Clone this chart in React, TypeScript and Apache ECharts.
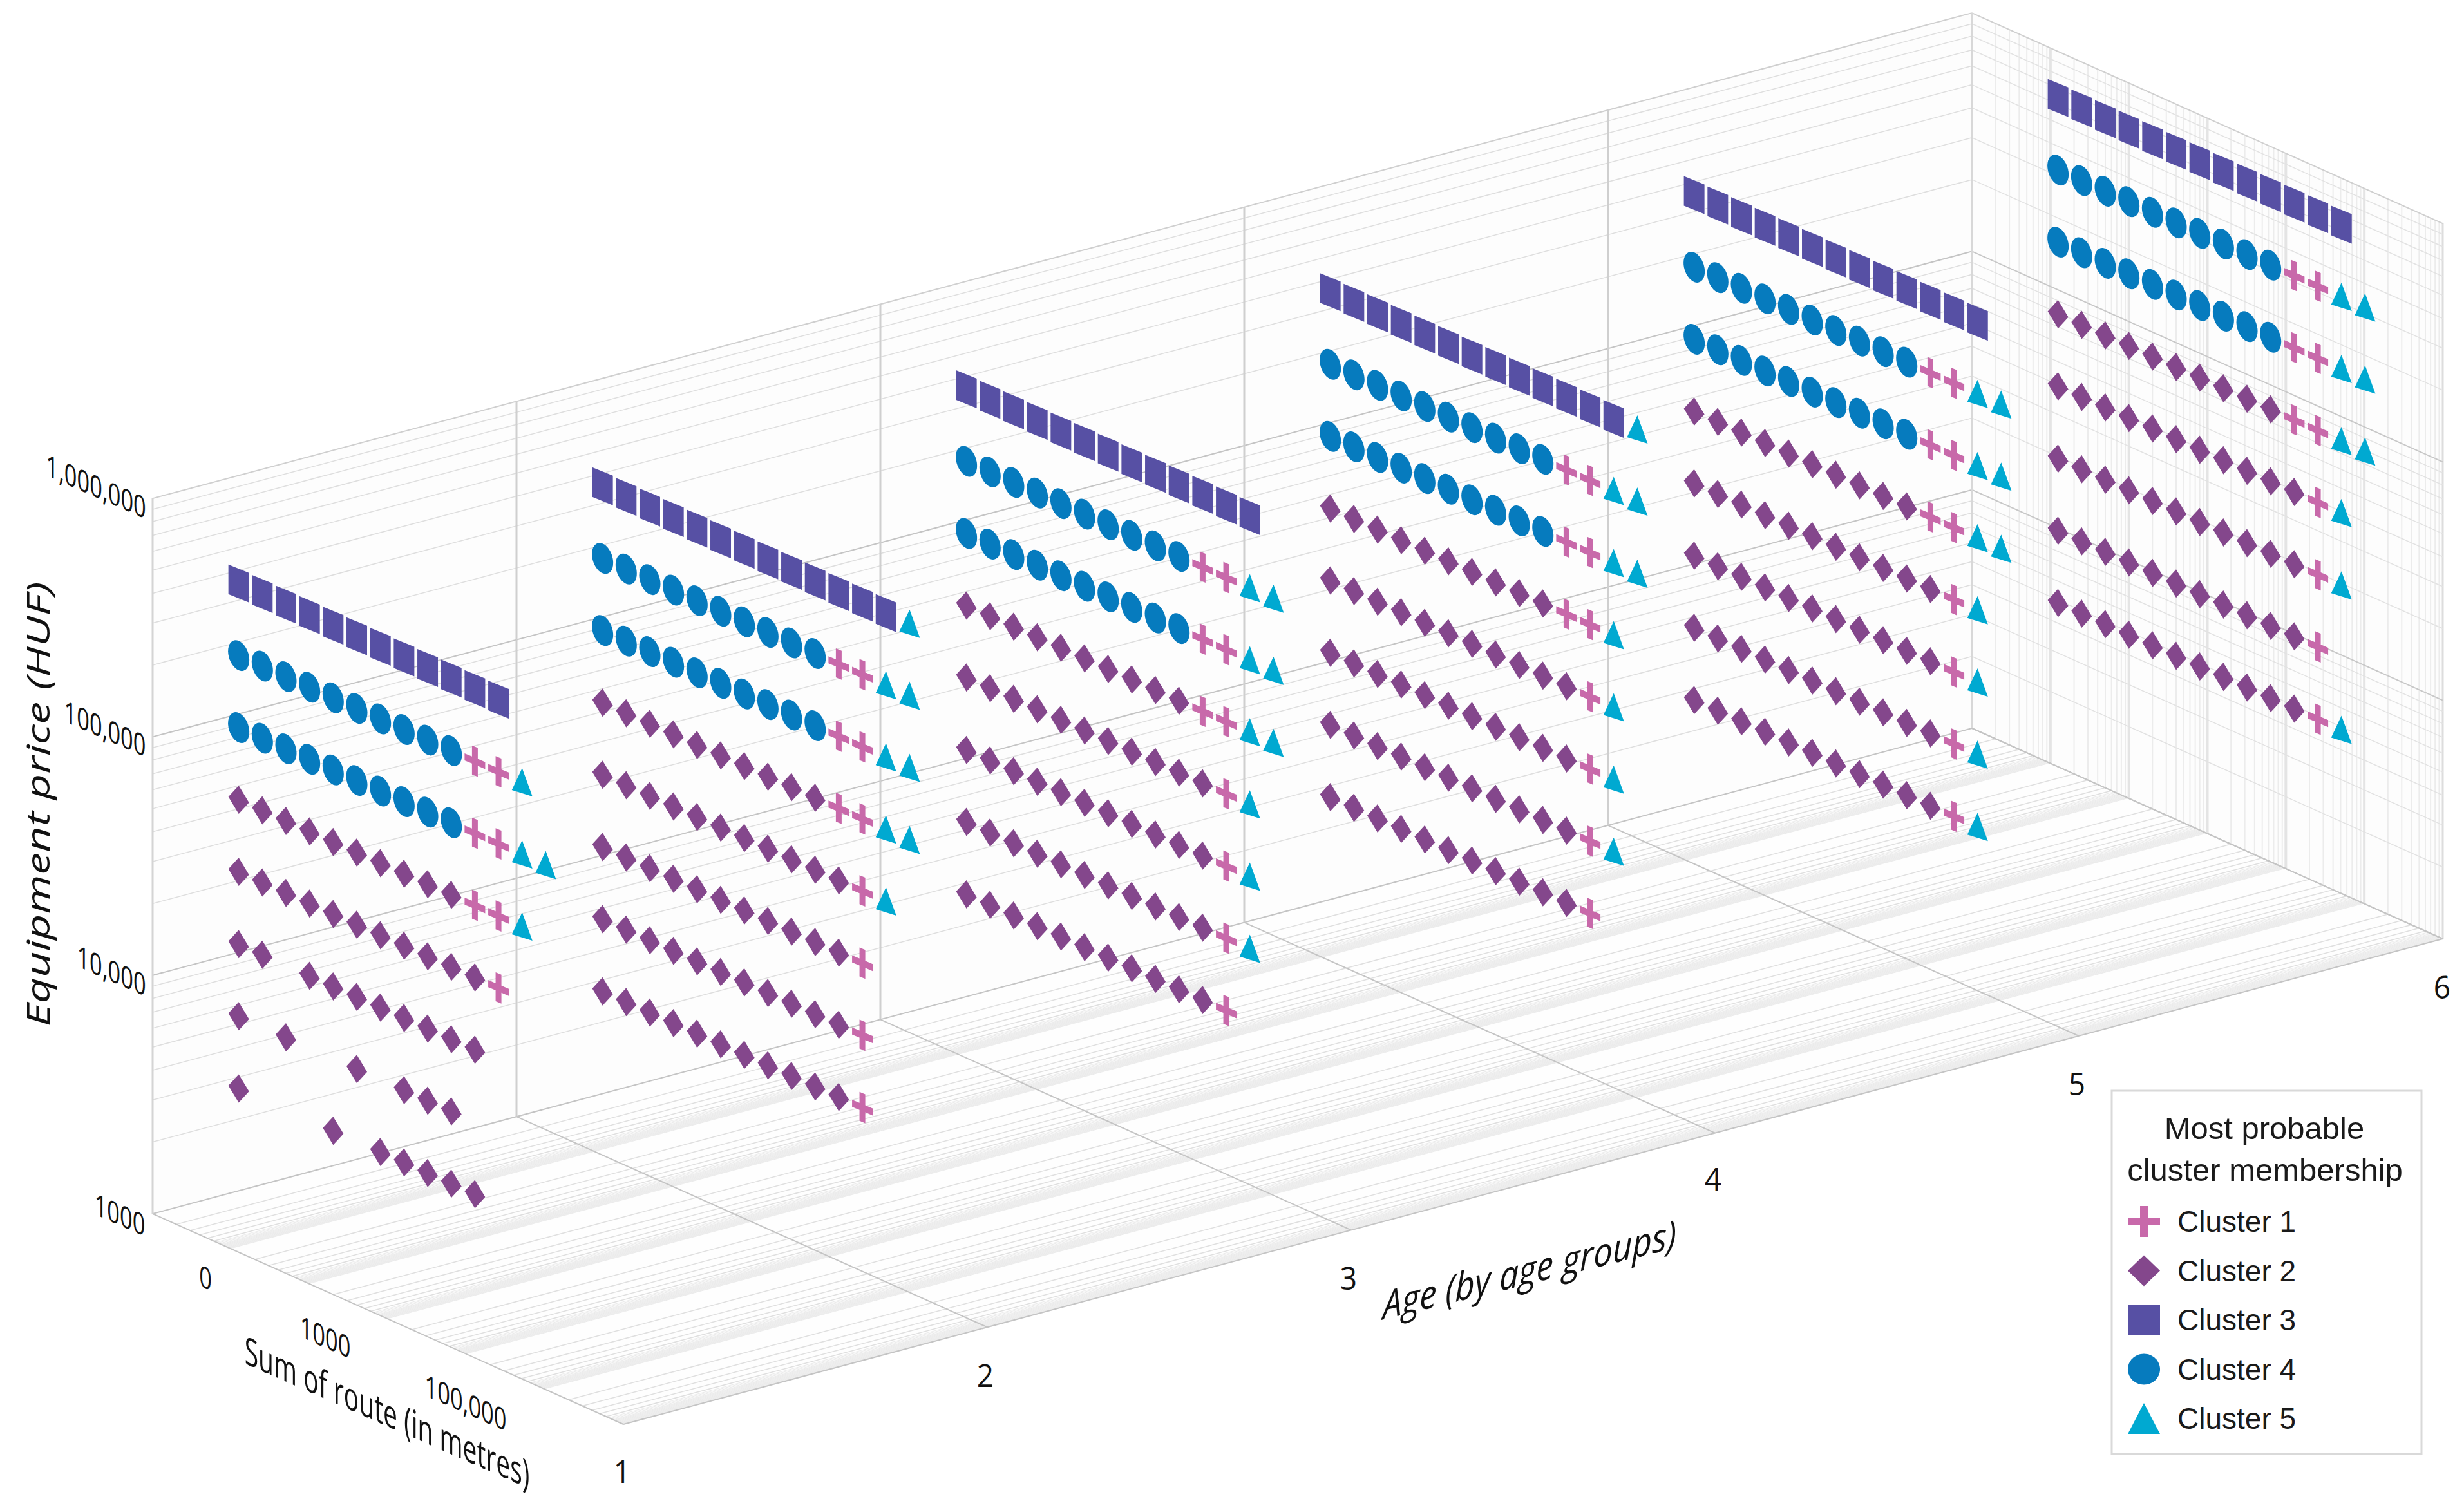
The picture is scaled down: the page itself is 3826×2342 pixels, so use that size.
import React, { useEffect, useRef } from "react";
import * as echarts from "echarts";

const W = 3826;
const H = 2342;

const ageGroups = [1, 2, 3, 4, 5, 6];
const routeValues = [12.5, 25, 50, 100, 200, 400, 800, 1600, 3200, 6400, 12800, 25600, 51200, 102400];
const priceValues = [4860, 9770, 19600, 39400, 79000, 158500, 318000, 638000];

// One string per price level (low to high); one character per route value; digit = cluster, "." = empty.
const age1Rows = ["2...2.22222", "2.2..2.222", "22.22222222", "222222222221", "2222222222115", "44444444441155", "4444444444115", "333333333333"];
const age2Rows = ["222222222221", "222222222221", "222222222221", "2222222222215", "22222222221155", "44444444441155", "44444444441155", "33333333333335"];
const age3Rows = ["222222222221", "2222222222215", "2222222222215", "2222222222215", "22222222221155", "44444444441155", "44444444441155", "3333333333333"];
const age4Rows = ["222222222221", "2222222222215", "2222222222215", "2222222222215", "2222222222115", "44444444441155", "44444444441155", "33333333333335"];
const age5Rows = ["2222222222215", "2222222222215", "2222222222215", "2222222222215", "22222222221155", "44444444441155", "44444444441155", "3333333333333"];
const age6Rows = ["2222222222215", "222222222221", "2222222222215", "2222222222215", "22222222221155", "44444444441155", "44444444441155", "3333333333333"];
const rowsByAge = [age1Rows, age2Rows, age3Rows, age4Rows, age5Rows, age6Rows];

const clusterNames = ["Cluster 1", "Cluster 2", "Cluster 3", "Cluster 4", "Cluster 5"];
const clusterColors = ["#C869AA", "#84478C", "#5750A4", "#067BBE", "#00A9D1"];

const priceTicks = [
  { label: "1000", x: 186, y: 1885 },
  { label: "10,000", x: 173, y: 1506 },
  { label: "100,000", x: 163, y: 1130 },
  { label: "1,000,000", x: 149, y: 754 },
];
const routeTicks = [
  { label: "0", x: 319, y: 1983 },
  { label: "1000", x: 505, y: 2075 },
  { label: "100,000", x: 723, y: 2177 },
];
const ageTickPos = [
  [966, 2284],
  [1530, 2135],
  [2094, 1984],
  [2660, 1830],
  [3225, 1682],
  [3792, 1532],
];

// 3D -> screen: the chart's box is an oblique (affine) view.
const ORIGIN = [237, 1885];
const AGE_STEP = [565, -150.8];
const ROUTE_SPAN = [731, 327];
const PRICE_DECADE = 370.3;
function project(age: number, route: number, price: number): [number, number] {
  const t = Math.log10(route) / 6;
  const h = Math.log10(price) - 3;
  return [
    ORIGIN[0] + AGE_STEP[0] * (age - 1) + ROUTE_SPAN[0] * t,
    ORIGIN[1] + AGE_STEP[1] * (age - 1) + ROUTE_SPAN[1] * t - PRICE_DECADE * h,
  ];
}

const SHEAR = 0.42;
function shearPath(pts: number[][]) {
  return "path://" + pts.map((p, i) => `${i ? "L" : "M"}${p[0]} ${p[1] + SHEAR * p[0]}`).join(" ") + " Z";
}
function ellipsePath(a: number, b: number, s: number) {
  const k = 0.5523;
  const f = (x: number, y: number) => `${x * a} ${y * b + s * x * a}`;
  return (
    "path://M" + f(1, 0) +
    ` C${f(1, k)} ${f(k, 1)} ${f(0, 1)}` +
    ` C${f(-k, 1)} ${f(-1, k)} ${f(-1, 0)}` +
    ` C${f(-1, -k)} ${f(-k, -1)} ${f(0, -1)}` +
    ` C${f(k, -1)} ${f(1, -k)} ${f(1, 0)} Z`
  );
}
const plusPts = (hw: number, hh: number, tv: number, th: number) => [
  [-tv, -hh], [tv, -hh], [tv, -th], [hw, -th], [hw, th], [tv, th], [tv, hh], [-tv, hh], [-tv, th], [-hw, th], [-hw, -th], [-tv, -th],
];
const dataSymbols: { path: string; size: number[] }[] = [
  { path: shearPath(plusPts(16, 22.5, 4.5, 5.5)), size: [32, 48.8] },
  { path: "path://M-16 -4.5 L0 -22 L16 4.5 L0 22 Z", size: [32, 44] },
  { path: "path://M-16 -29.5 L16 -16.5 L16 29.5 L-16 16.5 Z", size: [32, 59] },
  { path: ellipsePath(16.5, 23, 0.42), size: [33, 48] },
  { path: "path://M0 -22 L16 22 L-16 12 Z", size: [32, 44] },
];
const legendIcons = [
  "path://M-25 -6 L-6 -6 L-6 -24 L6 -24 L6 -6 L25 -6 L25 6 L6 6 L6 24 L-6 24 L-6 6 L-25 6 Z",
  "path://M-25 0 L0 -24 L25 0 L0 24 Z",
  "path://M-25 -24 L25 -24 L25 24 L-25 24 Z",
  "path://M25 0 C25 13 14 24 0 24 C-14 24 -25 13 -25 0 C-25 -13 -14 -24 0 -24 C14 -24 25 -13 25 0 Z",
  "path://M0 -24 L25 24 L-25 24 Z",
];

function clusterPoints(cluster: number) {
  const out: number[][] = [];
  rowsByAge.forEach((rows, a) => {
    rows.forEach((row, r) => {
      row.split("").forEach((ch, c) => {
        if (ch === String(cluster)) {
          const [x, y] = project(ageGroups[a], routeValues[c], priceValues[r]);
          out.push([x, y, ageGroups[a], routeValues[c], priceValues[r]]);
        }
      });
    });
  });
  return out;
}

type Seg = [number, number, number, number, string, number];
const decades = [1000, 10000, 100000];
const priceMinor = [2, 3, 4, 5, 6, 7, 8, 9];
const routeDecades = [1, 10, 100, 1000, 10000, 100000];
const routeMinor = [2, 3, 4, 5, 6];
const routeFine = [6.5, 6.8, 7.1, 7.4, 7.6, 7.8, 8, 8.2, 8.4, 8.6, 8.8, 9, 9.2, 9.4, 9.6, 9.8];

function seg(a: [number, number], b: [number, number], color: string, w: number): Seg {
  return [a[0], a[1], b[0], b[1], color, w];
}
function buildSegments(): Seg[] {
  const out: Seg[] = [];
  const AMAX = 6;
  const RMAX = 1e6;
  // floor: lines along the age direction at route values
  for (const d of routeDecades) {
    for (const m of routeFine) out.push(seg(project(1, d * m, 1000), project(AMAX, d * m, 1000), "#ebebeb", 1));
    for (const m of routeMinor) out.push(seg(project(1, d * m, 1000), project(AMAX, d * m, 1000), "#dfdfdf", 1.5));
  }
  // right wall: verticals at route values
  for (const d of routeDecades) {
    for (const m of [...routeMinor, 7, 8, 9]) out.push(seg(project(AMAX, d * m, 1000), project(AMAX, d * m, 1e6), "#ececec", 2));
    if (d > 1) out.push(seg(project(AMAX, d, 1000), project(AMAX, d, 1e6), "#e4e4e4", 4));
  }
  out.push(seg(project(AMAX, RMAX, 1000), project(AMAX, RMAX, 1e6), "#dddddd", 3));
  // back and right walls: price lines
  for (const d of decades) {
    for (const m of priceMinor) {
      out.push(seg(project(1, 1, d * m), project(AMAX, 1, d * m), "#dedede", 1.5));
      out.push(seg(project(AMAX, 1, d * m), project(AMAX, RMAX, d * m), "#e2e2e2", 1.5));
    }
    out.push(seg(project(1, 1, d), project(AMAX, 1, d), "#c4c4c4", 2));
    out.push(seg(project(AMAX, 1, d), project(AMAX, RMAX, d), "#c8c8c8", 2));
  }
  out.push(seg(project(1, 1, 1e6), project(AMAX, 1, 1e6), "#cfcfcf", 2));
  out.push(seg(project(AMAX, 1, 1e6), project(AMAX, RMAX, 1e6), "#cfcfcf", 2));
  // back wall verticals and floor lines along route at each age
  for (const a of ageGroups) {
    if (a > 1) out.push(seg(project(a, 1, 1000), project(a, 1, 1e6), a === 6 ? "#d8d8d8" : "#cfcfcf", 3));
    out.push(seg(project(a, 1, 1000), project(a, RMAX, 1000), "#c4c4c4", 2));
  }
  out.push(seg(project(1, 1, 1000), project(1, 1, 1e6), "#d4d4d4", 3));
  // front edge
  out.push(seg(project(1, RMAX, 1000), project(AMAX, RMAX, 1000), "#c4c4c4", 2));
  return out;
}

const SKEW_ROUTE = -Math.atan(0.44);
const tickFont = "'Open Sans', 'Noto Sans', sans-serif";

function skewText(text: string, x: number, y: number, fontSize: number, skew: number, extra: any = {}, styleExtra: any = {}) {
  return {
    type: "text",
    x,
    y,
    skewY: skew,
    z: 20,
    silent: true,
    ...extra,
    style: { text, fontSize, fontFamily: tickFont, fill: "#111111", align: "center", verticalAlign: "middle", ...styleExtra },
  };
}

export default function App() {
  const ref = useRef<HTMLDivElement>(null);
  useEffect(() => {
    const chart = echarts.init(ref.current!, undefined, { renderer: "svg", width: W, height: H });
    const segments = buildSegments();
    const wallPolys = [
      { pts: [project(1, 1, 1000), project(6, 1, 1000), project(6, 1, 1e6), project(1, 1, 1e6)], fill: "#fdfdfd" },
      { pts: [project(6, 1, 1000), project(6, 1e6, 1000), project(6, 1e6, 1e6), project(6, 1, 1e6)], fill: "#fdfdfd" },
      { pts: [project(1, 1, 1000), project(1, 1e6, 1000), project(6, 1e6, 1000), project(6, 1, 1000)], fill: "#fefefe" },
    ];
    const graphic: any[] = [
      ...priceTicks.map((t) => skewText(t.label, t.x, t.y, 37, SKEW_ROUTE, { scaleX: 0.93, scaleY: 1.25 })),
      ...routeTicks.map((t) => skewText(t.label, t.x, t.y, 37, SKEW_ROUTE, { scaleX: 0.93, scaleY: 1.25 })),
      ...ageGroups.map((a, i) => ({
        type: "text",
        x: ageTickPos[i][0],
        y: ageTickPos[i][1],
        z: 20,
        silent: true,
        scaleX: 0.92,
        style: { text: String(a), fontSize: 50, fontFamily: tickFont, fill: "#111111", align: "center", verticalAlign: "middle" },
      })),
      skewText("Sum of route (in metres)", 601, 2191, 50, SKEW_ROUTE, { scaleX: 0.78, scaleY: 1.2 }),
      skewText("Age (by age groups)", 2375, 1970, 53, Math.atan(0.245), { scaleY: 1.15 }, { fontStyle: "italic" }),
      {
        type: "text",
        x: 58,
        y: 1249,
        rotation: Math.PI / 2,
        scaleX: 1.4,
        z: 20,
        silent: true,
        style: { text: "Equipment price (HUF)", fontSize: 50, fontStyle: "italic", fontFamily: tickFont, fill: "#111111", align: "center", verticalAlign: "middle" },
      },
      {
        type: "rect",
        z: 19,
        silent: true,
        shape: { x: 3279, y: 1694, width: 481, height: 564 },
        style: { fill: "#ffffff", stroke: "#d9d9d9", lineWidth: 3 },
      },
      {
        type: "text",
        x: 3516,
        y: 1752,
        z: 20,
        silent: true,
        style: { text: "Most probable", fontSize: 49, fontFamily: "'Liberation Sans', sans-serif", fill: "#1a1a1a", align: "center", verticalAlign: "middle" },
      },
      {
        type: "text",
        x: 3517,
        y: 1817,
        z: 20,
        silent: true,
        style: { text: "cluster membership", fontSize: 49, fontFamily: "'Liberation Sans', sans-serif", fill: "#1a1a1a", align: "center", verticalAlign: "middle" },
      },
    ];
    chart.setOption({
      animation: false,
      backgroundColor: "#ffffff",
      grid: { left: 0, top: 0, right: 0, bottom: 0, containLabel: false },
      xAxis: { type: "value", min: 0, max: W, show: false },
      yAxis: { type: "value", min: 0, max: H, inverse: true, show: false },
      legend: {
        orient: "vertical",
        left: 3304,
        top: 1873,
        itemWidth: 50,
        itemHeight: 48,
        itemGap: 28.5,
        selectedMode: false,
        padding: 0,
        z: 30,
        textStyle: { fontSize: 46, fontFamily: "'Liberation Sans', sans-serif", color: "#1a1a1a", padding: [0, 0, 0, 22] },
        data: clusterNames.map((name, i) => ({ name, icon: legendIcons[i] })),
      },
      graphic,
      series: [
        {
          type: "custom",
          name: "walls",
          coordinateSystem: "cartesian2d",
          silent: true,
          z: 1,
          clip: false,
          data: wallPolys.map((_, i) => [i, 0]),
          renderItem: (params: any, api: any) => {
            const p = wallPolys[params.dataIndex];
            return { type: "polygon", shape: { points: p.pts.map((q) => api.coord(q)) }, style: { fill: p.fill, stroke: "none" } };
          },
        },
        {
          type: "custom",
          name: "grid lines",
          coordinateSystem: "cartesian2d",
          silent: true,
          z: 2,
          clip: false,
          data: segments.map((s) => [s[0], s[1], s[2], s[3]]),
          renderItem: (params: any, api: any) => {
            const s = segments[params.dataIndex];
            const a = api.coord([s[0], s[1]]);
            const b = api.coord([s[2], s[3]]);
            return { type: "line", shape: { x1: a[0], y1: a[1], x2: b[0], y2: b[1] }, style: { stroke: s[4], lineWidth: s[5], fill: "none" } };
          },
        },
        ...clusterNames.map((name, i) => ({
          type: "scatter",
          name,
          z: 5,
          symbol: dataSymbols[i].path,
          symbolSize: dataSymbols[i].size,
          itemStyle: { color: clusterColors[i], opacity: 1 },
          data: clusterPoints(i + 1),
          encode: { x: 0, y: 1 },
          silent: true,
          clip: false,
        })),
      ],
    });
    return () => chart.dispose();
  }, []);
  return <div ref={ref} style={{ position: "fixed", left: 0, top: 0, width: W, height: H }} />;
}
